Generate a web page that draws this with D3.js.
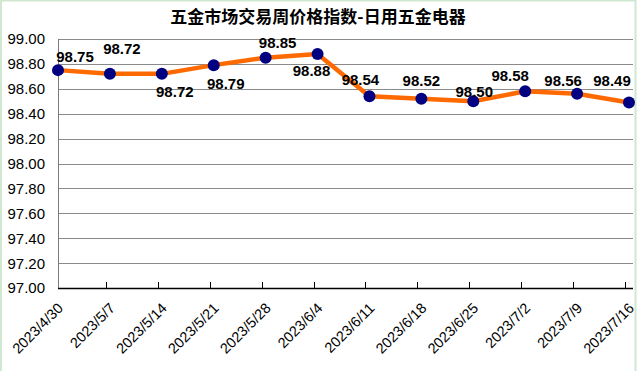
<!DOCTYPE html>
<html>
<head>
<meta charset="utf-8">
<title>五金市场交易周价格指数</title>
<style>
  body { margin: 0; background: #fff; }
  svg { display: block; }
</style>
</head>
<body>
<div id="chart"></div>
<script src="https://cdnjs.cloudflare.com/ajax/libs/d3/7.8.5/d3.min.js"></script>
<script>
// data
var dates = ["2023/4/30", "2023/5/7", "2023/5/14", "2023/5/21", "2023/5/28", "2023/6/4",
             "2023/6/11", "2023/6/18", "2023/6/25", "2023/7/2", "2023/7/9", "2023/7/16"];
var values = [98.75, 98.72, 98.72, 98.79, 98.85, 98.88, 98.54, 98.52, 98.50, 98.58, 98.56, 98.49];
var yTicks = [97.0, 97.2, 97.4, 97.6, 97.8, 98.0, 98.2, 98.4, 98.6, 98.8, 99.0];

// label offsets [dx, dy] from each point (the labels were placed by hand)
var labelOffset = [[17, -14], [12, -25], [13, 18], [12, 18], [12, -15], [-6, 17],
                   [-9, -17], [0, -18], [1, -10], [-15, -16], [-14, -13], [-17, -22]];

var width = 637, height = 371;
var plotLeft = 58, plotRight = 629, plotTop = 39, plotBottom = 288;

var svg = d3.select("#chart").append("svg")
  .attr("width", width)
  .attr("height", height);

svg.append("rect").attr("width", width).attr("height", height).attr("fill", "#fff");

// spreadsheet edge lines
svg.append("path")
  .attr("d", "M1,371V0.5H635.5V371")
  .attr("fill", "none")
  .attr("stroke", "#cfe8cf")
  .attr("stroke-width", 2);

var x = d3.scalePoint().domain(dates).range([plotLeft, plotRight]);
var y = d3.scaleLinear().domain([97, 99]).range([plotBottom, plotTop]);

// gridlines
svg.append("g").selectAll("line")
  .data(yTicks.slice(1))
  .join("line")
  .attr("x1", plotLeft).attr("x2", 633)
  .attr("y1", function(d) { return Math.round(y(d)) + 0.5; })
  .attr("y2", function(d) { return Math.round(y(d)) + 0.5; })
  .attr("stroke", "#8a8a8a");

// y axis
svg.append("line")
  .attr("x1", plotLeft + 0.5).attr("x2", plotLeft + 0.5)
  .attr("y1", plotTop).attr("y2", plotBottom)
  .attr("stroke", "#7a7a7a");

svg.append("g").selectAll("text")
  .data(yTicks)
  .join("text")
  .attr("x", 45)
  .attr("y", function(d) { return y(d); })
  .attr("dy", "0.36em")
  .attr("text-anchor", "end")
  .attr("font-family", "Liberation Sans, Arial, sans-serif")
  .attr("font-size", 15)
  .attr("fill", "#000")
  .text(function(d) { return d.toFixed(2); });

// x axis
svg.append("line")
  .attr("x1", plotLeft).attr("x2", 633)
  .attr("y1", plotBottom + 0.5).attr("y2", plotBottom + 0.5)
  .attr("stroke", "#000")
  .attr("stroke-width", 1.5);

svg.append("g").selectAll("line")
  .data(dates.slice(1))
  .join("line")
  .attr("x1", function(d) { return Math.round(x(d)) - 3.5; })
  .attr("x2", function(d) { return Math.round(x(d)) - 3.5; })
  .attr("y1", plotBottom - 6).attr("y2", plotBottom)
  .attr("stroke", "#000");

svg.append("g").selectAll("text")
  .data(dates)
  .join("text")
  .attr("transform", function(d) { return "translate(" + (x(d) + 6) + "," + (plotBottom + 21) + ") rotate(-45)"; })
  .attr("text-anchor", "end")
  .attr("font-family", "Liberation Sans, Arial, sans-serif")
  .attr("font-size", 14.5)
  .attr("fill", "#000")
  .text(function(d) { return d; });

// line
var line = d3.line()
  .x(function(d, i) { return x(dates[i]); })
  .y(function(d) { return y(d); });

svg.append("path")
  .datum(values)
  .attr("d", line)
  .attr("fill", "none")
  .attr("stroke", "#ff6a00")
  .attr("stroke-width", 4.5)
  .attr("stroke-linejoin", "round");

// markers
svg.append("g").selectAll("circle")
  .data(values)
  .join("circle")
  .attr("cx", function(d, i) { return x(dates[i]); })
  .attr("cy", function(d) { return y(d); })
  .attr("r", 6)
  .attr("fill", "#000080");

// value labels
svg.append("g").selectAll("text")
  .data(values)
  .join("text")
  .attr("x", function(d, i) { return x(dates[i]) + labelOffset[i][0]; })
  .attr("y", function(d, i) { return y(d) + labelOffset[i][1]; })
  .attr("dy", "0.36em")
  .attr("text-anchor", "middle")
  .attr("font-family", "Liberation Sans, Arial, sans-serif")
  .attr("font-size", 15)
  .attr("font-weight", "bold")
  .attr("fill", "#000")
  .text(function(d) { return d.toFixed(2); });

// title
svg.append("text")
  .attr("x", 318)
  .attr("y", 23)
  .attr("text-anchor", "middle")
  .attr("font-family", "Noto Sans CJK SC, sans-serif")
  .attr("font-size", 17)
  .attr("font-weight", "bold")
  .attr("fill", "#000")
  .text("五金市场交易周价格指数-日用五金电器");
</script>
</body>
</html>
